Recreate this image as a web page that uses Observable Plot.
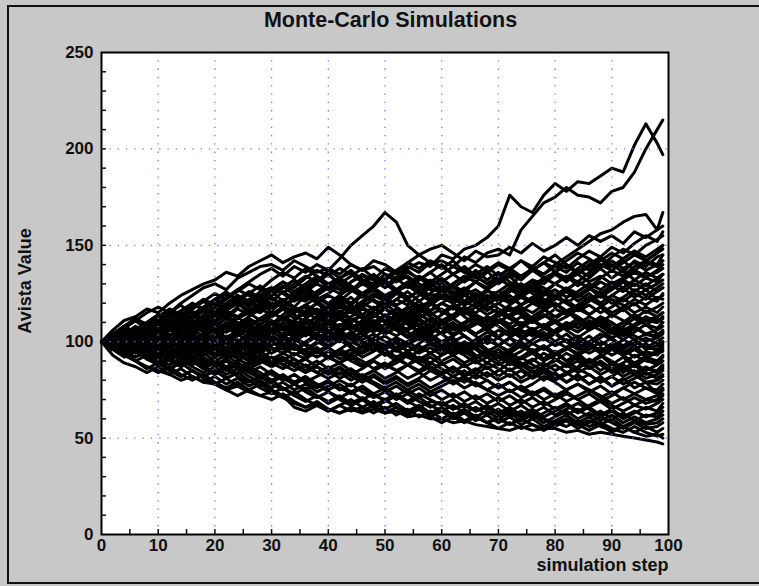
<!DOCTYPE html>
<html>
<head>
<meta charset="utf-8">
<script src="https://cdn.jsdelivr.net/npm/d3@7"></script>
<script src="https://cdn.jsdelivr.net/npm/@observablehq/plot@0.6"></script>
<style>
  html, body { margin: 0; padding: 0; background: #c8c8c8; overflow: hidden; }
  #chart { position: relative; width: 759px; height: 586px; overflow: hidden; }
  #chart svg { position: absolute; left: 0; top: 0; }
</style>
</head>
<body>
<div id="chart"></div>
<script>
// Simulation steps at which each path is recorded
const steps = [0,2,4,6,8,10,12,14,16,18,20,22,24,26,28,30,32,34,36,38,40,42,44,46,48,50,52,54,56,58,60,62,64,66,68,70,72,74,76,78,80,82,84,86,88,90,92,94,96,98,99];

// Paths that finish above ~117
const highPaths = [
  [100,103,101,105,103,106,110,107,111,109,112,116,113,117,115,120,118,123,121,126,128,125,131,134,132,138,135,139,136,141,142,139,144,141,146,148,145,158,165,172,175,180,176,175,172,178,180,188,200,210,215],
  [100,97,101,104,100,103,107,104,109,113,115,112,117,114,119,116,121,118,124,122,125,129,126,132,130,135,133,138,141,139,145,143,148,150,154,160,176,170,167,176,182,178,183,182,186,190,188,202,213,203,197],
  [100,104,108,105,110,114,111,116,119,117,122,119,124,121,126,128,125,130,134,131,137,143,150,155,160,167,162,150,145,141,138,142,136,133,137,130,134,128,132,130,135,131,137,134,139,140,136,142,139,144,145],
  [100,98,102,99,104,101,106,103,108,105,110,107,112,115,111,114,118,115,119,116,118,122,119,124,121,120,125,122,127,124,125,129,126,131,128,132,136,133,138,135,140,144,148,152,156,158,162,165,166,158,167],
  [100,104,107,111,115,118,115,120,124,128,130,127,133,136,139,140,137,142,139,136,138,135,140,137,142,140,136,141,145,148,150,146,142,147,144,145,149,146,151,147,150,154,150,155,152,155,151,157,154,158,160],
  [100,106,111,113,117,115,120,124,127,130,132,136,134,139,142,145,141,144,146,143,149,145,140,137,139,135,131,134,130,127,128,124,127,123,126,125,121,126,129,125,130,127,131,128,124,128,132,129,133,131,135],
  [100,97,100,96,99,95,98,102,99,104,101,106,110,107,112,109,114,118,115,120,124,121,126,130,127,132,136,133,128,131,126,130,134,131,136,140,137,142,139,144,141,138,143,147,144,149,146,151,155,152,157],
  [100,102,106,103,107,110,106,109,113,110,114,118,122,119,124,127,131,128,133,137,134,138,135,131,134,130,126,129,125,121,124,120,116,120,124,121,126,130,127,132,136,133,138,142,139,144,148,145,150,153,155],
  [100,103,99,102,98,101,97,100,95,98,94,97,101,98,103,107,104,109,112,109,114,118,115,120,124,121,126,122,118,121,125,122,127,131,128,133,129,134,138,135,139,136,141,137,142,146,143,147,144,148,150],
  [100,96,99,103,100,104,108,112,109,114,118,122,126,130,127,132,136,133,138,134,130,133,129,125,128,124,127,131,128,132,129,125,128,124,120,123,127,124,129,133,130,134,131,136,140,137,141,145,142,146,148],
  [100,103,107,104,108,112,116,113,117,121,125,122,127,131,135,138,134,139,136,140,137,133,136,132,128,131,127,123,126,130,126,122,119,122,118,115,119,123,120,125,122,127,131,128,133,137,134,139,142,140,145],
  [100,98,95,98,94,97,93,96,92,95,99,96,100,104,101,105,102,106,110,107,111,108,113,117,114,118,122,119,124,128,125,130,134,131,127,131,135,132,137,141,138,142,146,143,139,142,138,141,137,140,142],
  [100,104,101,105,108,105,109,106,110,107,111,115,112,116,120,117,121,125,122,126,130,127,131,135,132,128,132,136,133,129,132,128,124,127,123,126,130,127,131,128,124,127,123,127,131,128,132,136,133,137,140],
  [100,101,97,100,104,101,97,100,104,108,105,109,106,102,106,110,107,111,115,112,116,120,117,121,125,122,126,130,134,131,135,139,136,140,137,141,138,134,137,133,136,132,135,131,134,130,133,137,134,136,138],
  [100,97,101,98,94,97,101,98,102,99,103,107,104,108,112,115,112,116,119,123,120,124,128,125,129,133,137,141,138,142,139,135,138,134,130,133,129,125,128,124,127,123,126,130,127,131,128,132,129,133,135],
  [100,103,100,96,99,95,98,94,97,93,96,100,97,101,98,102,99,103,107,104,108,105,109,106,110,114,111,115,119,116,120,117,121,125,122,126,123,119,122,126,123,127,124,128,125,129,126,130,127,130,132],
  [100,102,105,102,106,103,99,102,98,101,97,100,104,108,105,109,113,110,106,109,105,108,112,109,113,117,114,118,115,119,123,120,124,121,117,120,116,119,123,120,124,128,125,121,124,120,123,127,124,128,130],
  [100,98,102,106,110,107,111,115,112,116,120,117,121,125,122,118,121,117,113,116,112,115,111,114,110,113,117,114,118,115,111,114,118,115,119,123,120,124,121,117,120,116,119,123,120,124,121,125,122,126,128],
  [100,101,98,101,97,100,104,101,105,109,106,110,107,111,108,104,107,103,106,102,105,109,106,110,114,111,107,110,114,111,107,110,106,109,113,110,114,118,115,119,123,120,116,119,115,118,122,119,123,121,125],
  [100,104,108,112,109,113,117,114,118,122,119,123,127,124,120,123,119,115,118,114,110,113,109,105,108,104,107,111,108,112,109,113,117,114,110,113,117,114,110,113,117,114,118,122,119,115,118,122,119,123,122],
  [100,97,93,96,92,95,91,94,98,95,99,103,100,104,101,105,109,106,110,107,103,106,102,105,109,106,110,114,111,107,110,106,109,113,110,114,118,115,111,114,110,113,117,114,118,122,119,115,118,115,118]
];

// Paths that finish between ~80 and ~115
const middlePaths = [
  [100,103,106,102,105,109,106,110,114,111,115,119,123,120,124,128,125,121,124,120,116,119,115,118,114,110,113,109,112,108,111,107,110,114,111,115,112,108,111,107,110,106,109,113,110,114,111,108,111,113,115],
  [100,98,101,97,93,96,92,95,91,88,91,87,90,94,91,95,99,96,100,104,101,105,109,106,110,107,111,115,112,116,120,117,121,118,114,117,113,116,120,117,113,116,112,108,111,107,110,114,111,110,113],
  [100,102,99,103,107,104,108,105,101,104,108,112,109,113,117,114,118,122,126,130,127,131,128,124,127,123,119,122,118,114,117,113,116,112,108,111,107,110,106,109,105,108,112,109,113,110,106,109,113,110,112],
  [100,97,100,104,101,98,101,97,100,96,99,95,98,102,99,103,100,96,99,95,98,102,99,103,107,104,108,105,101,104,100,103,107,104,108,112,109,113,110,114,111,107,110,106,109,105,108,112,109,107,110],
  [100,104,101,97,100,96,92,95,99,96,92,95,91,88,91,87,90,94,91,95,92,96,100,97,101,98,102,99,103,107,104,100,103,99,102,106,103,107,111,108,112,116,113,109,112,108,105,108,104,106,108],
  [100,103,107,111,108,112,109,113,110,106,109,105,108,104,107,111,108,104,107,111,115,112,116,120,117,121,118,114,117,113,109,112,108,104,107,103,106,102,105,101,104,108,105,109,106,102,105,101,104,103,106],
  [100,99,96,99,95,98,102,99,103,100,104,101,97,100,96,99,103,100,104,108,105,101,104,100,96,99,95,98,94,97,93,96,100,97,101,98,102,106,103,107,104,100,103,99,102,106,103,107,104,102,105],
  [100,102,98,95,98,94,97,93,89,92,88,91,95,92,96,100,97,101,98,94,97,93,96,92,95,99,96,100,104,101,105,109,106,110,107,111,108,104,107,103,106,110,107,111,108,104,107,103,100,102,104],
  [100,101,104,108,105,109,113,116,120,117,121,125,122,126,123,119,122,118,114,117,113,116,112,108,111,107,110,106,109,105,108,104,107,103,99,102,98,101,105,102,98,101,97,100,104,101,98,101,97,100,102],
  [100,98,95,92,95,91,94,98,95,99,103,100,104,108,105,109,106,102,105,101,104,100,103,99,102,106,103,107,111,108,104,107,103,99,102,98,95,98,94,97,93,96,99,96,100,97,101,98,102,99,100],
  [100,103,100,104,101,97,100,96,99,95,98,102,99,95,98,94,97,93,96,100,97,101,98,94,97,93,96,92,95,99,96,100,97,101,105,102,106,103,99,102,98,101,97,94,97,93,96,100,97,96,99],
  [100,97,100,96,99,103,107,104,108,111,108,112,109,105,108,104,108,111,107,110,106,102,105,101,104,100,97,100,96,99,95,98,94,97,93,96,92,95,99,96,100,97,101,98,94,97,93,96,99,95,98],
  [100,102,106,103,99,102,98,101,97,100,96,93,96,92,95,91,94,98,95,99,103,100,104,108,105,109,106,102,105,101,97,100,96,99,95,98,94,91,94,90,93,97,94,98,95,99,96,92,95,93,96],
  [100,96,93,96,92,89,92,88,91,87,84,87,83,86,90,87,91,88,92,95,92,96,93,97,100,97,101,98,102,99,95,98,94,97,101,98,102,99,95,98,94,97,93,96,100,97,93,96,92,94,95],
  [100,103,99,102,106,110,107,111,108,112,109,105,108,112,109,113,117,114,110,106,109,105,108,104,100,103,99,95,98,94,97,93,96,92,95,91,94,98,95,91,94,90,93,89,92,96,93,89,92,90,93],
  [100,98,101,98,94,97,94,90,93,89,92,96,99,96,100,103,100,96,99,95,91,94,90,87,90,86,89,93,90,94,98,95,99,96,92,95,91,88,91,87,90,94,91,87,90,86,89,93,90,89,92],
  [100,102,99,95,98,102,99,103,106,103,99,102,98,101,97,100,96,99,95,92,95,91,94,98,95,99,102,99,103,100,96,99,95,91,94,90,93,89,86,89,85,88,92,89,93,90,86,89,85,88,90],
  [100,97,101,104,101,105,108,105,101,104,100,97,100,96,99,95,98,102,99,103,100,104,101,97,100,96,92,95,91,94,90,93,89,92,96,93,89,92,88,85,88,84,87,91,88,84,87,83,86,85,88],
  [100,99,95,98,94,91,94,97,94,98,95,91,94,90,93,89,86,89,85,88,92,89,93,90,86,89,85,88,92,89,93,96,93,89,92,88,91,87,90,94,91,87,90,86,89,85,88,84,87,84,87],
  [100,103,107,104,108,105,101,104,100,96,99,95,98,94,97,101,98,102,105,102,98,101,97,94,97,93,96,92,89,92,88,91,87,90,86,89,85,88,84,87,91,88,84,87,83,86,82,85,81,83,85],
  [100,97,94,97,93,96,100,97,101,98,94,97,93,90,93,89,92,88,91,87,84,87,83,86,90,87,91,88,84,87,83,86,82,85,89,86,82,85,81,84,80,83,86,83,79,82,78,81,84,81,83],
  [100,104,101,105,102,98,101,97,94,97,93,96,100,97,101,97,94,97,93,96,92,89,92,88,91,95,92,88,91,87,84,87,83,86,82,85,89,86,82,85,81,84,80,83,79,82,86,83,79,80,82],
  [100,98,102,99,95,92,95,91,88,91,87,90,86,89,93,90,94,91,87,90,86,89,85,82,85,81,84,88,85,89,86,82,85,81,84,80,83,79,82,86,83,79,82,78,81,77,80,83,79,78,80]
];

// Paths that wander through the crowded central band
const centralPaths = [
  [100,104,99,103,108,104,109,113,108,112,117,113,118,122,117,121,126,122,127,123,119,124,120,125,121,117,122,126,121,125,130,126,121,125,120,124,128,123,127,122,118,122,117,121,126,121,116,120,115,118,120],
  [100,98,103,107,102,106,111,107,112,116,112,117,121,116,120,125,129,124,128,133,128,132,127,131,135,130,126,130,125,129,133,128,132,137,132,136,131,127,131,126,130,134,129,133,138,133,137,132,136,133,135],
  [100,103,107,111,106,110,114,109,113,117,121,116,120,115,119,123,118,122,126,121,117,121,116,112,116,120,115,111,115,110,114,118,113,109,113,108,104,108,112,107,111,106,102,106,110,105,101,105,109,104,105],
  [100,96,100,104,99,103,107,102,106,110,105,109,113,108,112,116,111,115,119,114,118,113,117,112,108,112,107,103,107,102,98,102,97,101,96,92,96,100,95,91,95,90,94,89,93,88,92,87,91,88,90],
  [100,101,96,100,104,108,103,107,111,106,110,114,109,105,109,113,117,112,116,120,115,119,123,118,122,117,113,117,121,116,120,124,119,123,127,122,126,130,125,121,125,120,124,128,123,127,131,126,130,126,128],
  [100,97,101,105,109,104,108,112,116,111,115,119,123,118,122,126,121,125,129,124,128,132,127,123,127,122,126,121,117,121,116,112,116,111,107,111,106,102,106,101,105,100,96,100,95,99,94,98,93,95,97],
  [100,104,100,96,100,95,99,103,98,102,106,101,105,109,104,108,112,107,103,107,111,106,110,114,109,113,117,112,116,120,115,119,114,118,122,117,113,117,112,116,120,115,119,114,118,113,117,112,116,113,115],
  [100,102,106,102,98,102,97,101,105,100,104,99,95,99,94,98,102,97,93,97,92,96,91,95,99,94,90,94,89,85,89,84,88,83,87,82,86,81,85,80,84,79,83,78,82,77,81,76,79,73,75],
  [100,103,108,112,107,111,115,119,114,118,122,126,121,125,129,124,128,132,127,131,135,130,134,138,133,129,133,128,132,136,131,135,139,134,130,134,138,133,137,141,136,140,135,139,143,138,142,137,141,139,142],
  [100,97,93,97,101,96,100,104,99,103,107,102,106,110,105,109,113,108,112,116,111,115,119,114,118,113,109,113,108,104,108,103,107,111,106,110,114,109,113,117,112,116,111,107,111,106,110,114,109,112,110],
  [100,103,99,95,99,103,107,102,106,110,105,109,104,100,104,108,103,107,111,106,110,105,101,105,100,96,100,95,99,103,98,94,98,93,89,93,88,92,96,91,95,90,86,90,85,89,84,88,83,85,86],
  [100,98,102,106,110,114,109,113,117,121,116,120,124,119,123,127,131,126,130,134,129,133,137,132,128,132,127,131,126,122,126,121,125,120,116,120,124,119,123,118,122,126,121,125,120,124,128,123,127,122,124],
  [100,102,98,94,98,102,97,101,96,100,104,99,103,107,102,106,110,105,109,113,108,112,107,111,115,110,114,109,105,109,104,108,103,99,103,98,102,97,101,105,100,104,99,103,98,102,97,101,96,98,100],
  [100,104,108,103,107,111,115,110,114,118,113,117,121,125,120,124,128,132,127,131,135,130,126,130,134,129,133,137,132,136,140,135,131,135,139,134,138,142,137,141,145,140,136,140,144,139,143,147,142,146,150]
];

// Paths that finish below ~80
const lowPaths = [
  [100,96,92,95,91,88,91,87,90,86,89,85,88,84,81,84,80,83,79,82,85,81,84,80,83,79,82,78,81,85,82,78,81,77,80,76,79,75,78,82,79,75,78,74,77,73,76,79,76,75,78],
  [100,103,99,96,99,95,92,95,91,94,90,93,89,86,89,92,88,91,87,84,87,83,86,82,85,88,85,81,84,80,83,79,82,78,75,78,74,77,73,76,72,75,78,75,71,74,70,73,76,73,76],
  [100,97,100,97,101,104,101,97,100,96,93,96,92,95,91,88,91,87,84,87,83,86,82,79,82,78,81,77,80,76,79,82,79,83,80,76,79,75,72,75,71,74,70,73,69,72,76,73,70,72,75],
  [100,93,89,87,84,87,83,86,82,79,82,78,81,77,80,76,79,75,78,74,77,80,77,81,78,74,77,73,76,72,75,71,74,70,73,69,72,68,71,67,70,73,70,66,69,65,68,71,68,70,73],
  [100,102,98,101,97,94,97,93,96,100,97,93,96,92,89,92,88,85,88,84,81,84,80,83,79,76,79,75,78,74,77,80,76,79,75,72,75,71,74,70,73,69,72,75,72,68,71,67,70,69,72],
  [100,98,94,90,93,89,86,89,85,82,85,81,84,87,84,80,83,79,82,78,75,78,74,77,73,76,72,75,71,74,70,73,69,72,68,71,67,70,66,69,65,68,64,67,70,67,64,67,65,68,70],
  [100,97,93,96,92,89,85,82,85,81,78,81,77,80,76,73,76,72,69,72,68,71,67,70,66,69,72,69,73,70,67,70,66,69,65,68,64,67,63,66,62,65,68,65,61,64,60,63,66,64,68],
  [100,101,97,100,96,99,95,92,95,91,88,91,87,84,87,83,80,83,79,76,79,75,78,74,71,74,70,73,69,66,69,65,68,64,67,63,66,62,65,61,64,67,63,66,62,65,61,64,61,63,66],
  [100,96,99,95,92,95,91,94,90,87,90,86,83,86,82,79,82,78,75,78,74,71,74,70,73,69,72,68,71,67,64,67,63,66,62,65,61,64,60,63,66,62,65,61,64,60,63,59,62,61,64],
  [100,98,95,98,94,91,88,91,87,84,87,83,86,82,79,75,72,66,64,67,64,67,70,66,69,65,68,64,67,63,66,62,65,61,64,60,63,59,62,58,61,64,60,63,59,62,58,61,58,60,62],
  [100,97,93,90,86,89,85,82,85,81,78,75,72,75,72,70,73,69,66,69,65,63,66,64,67,63,66,62,65,61,64,60,63,59,62,58,61,57,60,56,59,62,58,61,57,60,56,59,57,58,60],
  [100,96,99,95,91,94,90,87,90,86,83,86,82,79,82,78,75,78,74,71,74,70,67,70,66,63,66,62,65,61,58,61,64,61,58,61,57,60,63,60,56,59,55,58,61,58,55,58,55,56,58],
  [100,98,94,90,87,84,87,83,80,83,79,76,79,75,78,74,71,74,70,67,64,67,64,66,63,66,62,65,61,64,60,63,59,62,58,55,58,55,57,54,57,60,57,54,57,53,56,53,56,53,55],
  [100,97,94,97,93,90,86,89,85,82,85,81,84,80,77,80,76,73,76,72,69,72,68,71,67,70,66,63,66,62,64,61,58,61,58,60,57,60,57,55,58,56,59,56,58,55,53,56,53,51,52],
  [100,102,98,95,98,94,91,94,90,87,90,86,89,85,82,85,81,78,81,77,80,76,73,76,72,70,73,69,66,69,68,65,67,64,66,62,64,61,63,60,58,60,57,59,56,54,56,53,51,52,50],
  [100,97,93,90,87,85,83,80,82,79,78,75,77,74,72,74,71,68,66,68,65,63,65,63,65,63,64,61,62,60,60,58,59,57,56,55,54,56,54,55,55,53,54,52,53,52,51,50,49,48,47]
];

// Axis ticks, labels and grid positions
const xTickLabels = [0,10,20,30,40,50,60,70,80,90,100];
const yTickLabels = [0,50,100,150,200,250];
const xMinorTicks = [5,10,15,20,25,30,35,40,45,50,55,60,65,70,75,80,85,90,95];
const yMinorTicks = [10,20,30,40,50,60,70,80,90,100,110,120,130,140,150,160,170,180,190,200,210,220,230,240];
const xGrid = [10,20,30,40,50,60,70,80,90];
const yGrid = [50,100,150,200];

const title = "Monte-Carlo Simulations";
const xLabel = "simulation step";
const yLabel = "Avista Value";

// Long-format table: one row per path and step
const rows = [];
[highPaths, middlePaths, centralPaths, lowPaths].forEach((group, g) =>
  group.forEach((values, i) =>
    values.forEach((v, j) => rows.push({path: `${g}-${i}`, step: steps[j], value: v}))
  )
);

const gridStyle = {stroke: "#7272ff", strokeOpacity: 1, strokeWidth: 1.3, strokeDasharray: "1.3,7"};

const chart = Plot.plot({
  width: 759,
  height: 586,
  marginLeft: 101,
  marginRight: 91,
  marginTop: 52,
  marginBottom: 52,
  x: {domain: [0, 100], label: null},
  y: {domain: [0, 250], label: null},
  style: {
    background: "transparent",
    fontFamily: "'Liberation Sans', Arial, sans-serif",
    fontWeight: "bold",
    fontSize: "17px",
    color: "#111",
    overflow: "visible"
  },
  marks: [
    Plot.frame({fill: "white"}),
    Plot.line(rows, {x: "step", y: "value", z: "path", stroke: "black", strokeWidth: 3}),
    Plot.gridX(xGrid, gridStyle),
    Plot.gridY(yGrid, gridStyle),
    Plot.frame({stroke: "black", strokeWidth: 2}),
    Plot.axisX(xMinorTicks, {tickSize: -5, tickFormat: () => "", strokeWidth: 1.5, label: null}),
    Plot.axisY(yMinorTicks, {tickSize: -5, tickFormat: () => "", strokeWidth: 1.5, label: null}),
    Plot.axisX(xTickLabels, {tickSize: 0, tickPadding: 4, label: null}),
    Plot.axisY(yTickLabels, {tickSize: 0, tickPadding: 8, label: null}),
    Plot.text([title], {frameAnchor: "top", lineAnchor: "bottom", dx: 5.5, dy: -26, fontSize: 21.5, fill: "#111"}),
    Plot.text([xLabel], {frameAnchor: "bottom-right", textAnchor: "end", lineAnchor: "bottom", dy: 36, fontSize: 18, fill: "#111"}),
    Plot.text([yLabel], {frameAnchor: "left", rotate: -90, textAnchor: "middle", lineAnchor: "middle", dx: -76, dy: -12.5, fontSize: 18, fill: "#111"})
  ]
});

const container = document.getElementById("chart");

// Window edge: open on the right, closed on the left, top and bottom
const edge = d3.create("svg")
  .attr("width", 759)
  .attr("height", 586);
edge.append("path")
  .attr("d", "M759,6 H8 V583 H759")
  .attr("fill", "none")
  .attr("stroke", "#111")
  .attr("stroke-width", 2);

container.appendChild(edge.node());
container.appendChild(chart);
</script>
</body>
</html>
